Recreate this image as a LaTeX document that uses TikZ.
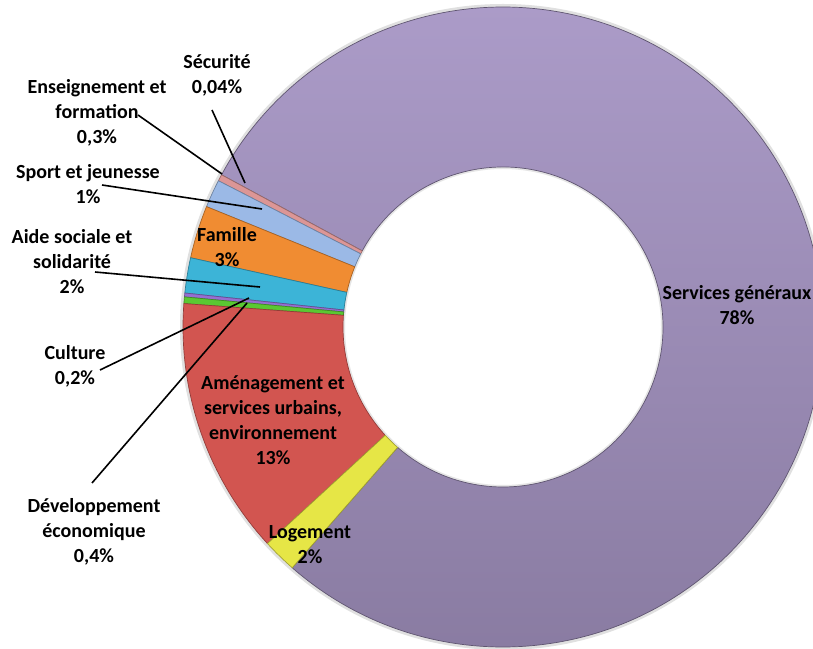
\documentclass[tikz,border=0pt]{standalone}
\usepackage{fontspec}
\setmainfont{Carlito}
\definecolor{svtop}{HTML}{AC9CC9}
\definecolor{svbot}{HTML}{887AA0}
\definecolor{cred}{HTML}{D25550}
\definecolor{cyel}{HTML}{E6E646}
\definecolor{cora}{HTML}{F08C32}
\definecolor{ccya}{HTML}{3CB4D7}
\definecolor{clbl}{HTML}{9BB9E6}
\definecolor{cpnk}{HTML}{DC9696}
\definecolor{cgrn}{HTML}{5AC832}
\definecolor{cpur}{HTML}{966ED2}
\newcommand{\ringseg}[2]{([shift={(#1:320)}]O) arc[start angle=#1, end angle=#2, radius=320] -- ([shift={(#2:160)}]O) arc[start angle=#2, end angle=#1, radius=160] -- cycle}
\begin{document}
\begin{tikzpicture}[x=1pt,y=1pt,
  lbl/.style={font=\bfseries\fontsize{20}{25}\selectfont, align=center, inner sep=0pt, text=black},
  leader/.style={black, line width=1.6pt},
  segline/.style={line width=0.7pt, line join=round}]
\useasboundingbox (0,0) rectangle (813,648);
\clip (0,0) rectangle (813,648);
\fill[white] (0,0) rectangle (813,648);
\coordinate (O) at (503,321);
% soft shadow
\draw[black!12, line width=3pt] (O) circle (321.5);
\draw[black!10, line width=2pt] (O) circle (159);
% segments
\shade[top color=svtop, bottom color=svbot] \ringseg{-131.2}{151.6};
\draw[segline, svbot!70!black] \ringseg{-131.2}{151.6};
\fill[cpnk] \ringseg{151.6}{152.8};
\draw[segline, cpnk!70!black] \ringseg{151.6}{152.8};
\fill[clbl] \ringseg{152.8}{157.9};
\draw[segline, clbl!70!black] \ringseg{152.8}{157.9};
\fill[cora] \ringseg{157.9}{167.5};
\draw[segline, cora!70!black] \ringseg{157.9}{167.5};
\fill[ccya] \ringseg{167.5}{173.9};
\draw[segline, ccya!70!black] \ringseg{167.5}{173.9};
\fill[cpur] \ringseg{173.9}{174.6};
\draw[segline, cpur!70!black] \ringseg{173.9}{174.6};
\fill[cgrn] \ringseg{174.6}{175.8};
\draw[segline, cgrn!70!black] \ringseg{174.6}{175.8};
\fill[cred] \ringseg{175.8}{222.6};
\draw[segline, cred!70!black] \ringseg{175.8}{222.6};
\fill[cyel] \ringseg{222.6}{228.8};
\draw[segline, cyel!70!black] \ringseg{222.6}{228.8};
% labels
\node[lbl] (secu) at (217,572.5) {Sécurité\\0,04\%};
\node[lbl] (ens) at (97,535) {Enseignement et\\formation\\0,3\%};
\node[lbl] (sport) at (88,463.5) {Sport et jeunesse\\1\%};
\node[lbl] (aide) at (72,386.3) {Aide sociale et\\solidarité\\2\%};
\node[lbl] (fam) at (227,401) {Famille\\3\%};
\node[lbl] (cult) at (75,282) {Culture\\0,2\%};
\node[lbl] (dev) at (94,116) {Développement\\économique\\0,4\%};
\node[lbl] (amen) at (273,227.5) {Aménagement et\\services urbains,\\environnement\\13\%};
\node[lbl] (loge) at (310,103) {Logement\\2\%};
\node[lbl] (serv) at (737,343) {Services généraux\\78\%};
% leader lines
\coordinate (secuA) at (212,538); \coordinate (secuB) at (245,465);
\coordinate (ensA) at (138,533); \coordinate (ensB) at (222,474);
\coordinate (sportA) at (102,463); \coordinate (sportB) at (262,439);
\coordinate (aideA) at (95,376); \coordinate (aideB) at (260,361);
\coordinate (cultA) at (100,278); \coordinate (cultB) at (249,350);
\coordinate (devA) at (92,165); \coordinate (devB) at (247,345);
\draw[leader] (secuA) -- (secuB);
\draw[leader] (ensA) -- (ensB);
\draw[leader] (sportA) -- (sportB);
\draw[leader] (aideA) -- (aideB);
\draw[leader] (cultA) -- (cultB);
\draw[leader] (devA) -- (devB);
\end{tikzpicture}
\end{document}
